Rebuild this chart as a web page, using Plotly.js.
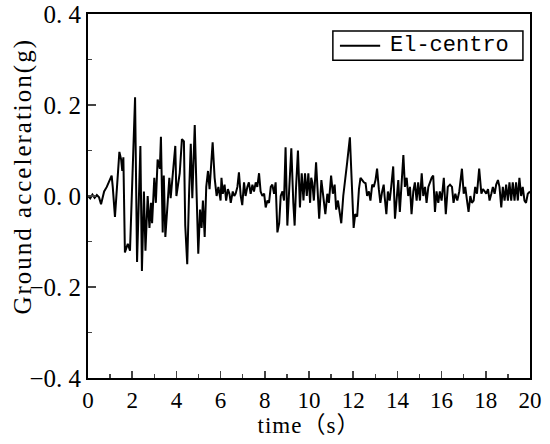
<!DOCTYPE html>
<html>
<head>
<meta charset="utf-8">
<script src="https://cdn.plot.ly/plotly-3.0.1.min.js"></script>
<style>
  html, body { margin: 0; padding: 0; background: #ffffff; }
  #chart { width: 550px; height: 444px; }
  /* the original uses a wide serif face; spread the letters a little */
  #chart .annotation-text.ytitle-note, #chart .ytitle-note text { letter-spacing: 2px; }
  #chart .xtitle { letter-spacing: 1px; }
</style>
</head>
<body>
<div id="chart"></div>
<script>
// El-centro record (time in s, acceleration in g)
const seriesName = "El-centro";
const xTitle = "time（s）";
const yTitle = "Ground acceleration(g)";
const timeSec = [
  0, 0.1, 0.2, 0.3, 0.4, 0.5, 0.59, 0.73, 0.85, 0.98, 1.07, 1.12, 1.22, 1.42, 1.5, 1.55, 1.6,
  1.67, 1.8, 1.9, 2.13, 2.22, 2.37, 2.44, 2.53, 2.6, 2.7, 2.78, 2.85, 2.9, 3.0, 3.07, 3.15,
  3.25, 3.3, 3.38, 3.43, 3.5, 3.59, 3.68, 3.74, 3.83, 3.95, 4.0, 4.1, 4.15, 4.25, 4.34, 4.4,
  4.49, 4.57, 4.65, 4.72, 4.83, 4.92, 4.99, 5.07, 5.14, 5.2, 5.28, 5.35, 5.43, 5.5, 5.64,
  5.73, 5.82, 5.9, 6.0, 6.04, 6.1, 6.18, 6.25, 6.33, 6.4, 6.46, 6.55, 6.62, 6.68, 6.76,
  6.83, 6.91, 6.98, 7.06, 7.13, 7.21, 7.28, 7.36, 7.44, 7.51, 7.59, 7.66, 7.74, 7.81, 7.89,
  7.97, 8.04, 8.12, 8.19, 8.27, 8.34, 8.42, 8.49, 8.57, 8.65, 8.72, 8.8, 8.87, 8.94, 9.02,
  9.1, 9.2, 9.29, 9.35, 9.41, 9.5, 9.59, 9.67, 9.75, 9.82, 9.9, 9.97, 10.05, 10.1, 10.15,
  10.22, 10.32, 10.41, 10.46, 10.56, 10.65, 10.74, 10.83, 10.9, 11.0, 11.08, 11.16, 11.23,
  11.31, 11.38, 11.46, 11.55, 11.64, 11.73, 11.85, 11.94, 12.02, 12.09, 12.18, 12.26, 12.33,
  12.41, 12.48, 12.56, 12.63, 12.71, 12.78, 12.86, 12.93, 13.01, 13.08, 13.16, 13.23, 13.31,
  13.38, 13.42, 13.5, 13.57, 13.65, 13.72, 13.81, 13.89, 13.96, 14.04, 14.11, 14.19, 14.27,
  14.34, 14.42, 14.49, 14.57, 14.64, 14.72, 14.79, 14.87, 14.94, 15.02, 15.1, 15.17, 15.25,
  15.32, 15.4, 15.47, 15.55, 15.62, 15.7, 15.77, 15.85, 15.92, 16.0, 16.1, 16.19, 16.28,
  16.38, 16.47, 16.54, 16.62, 16.71, 16.8, 16.92, 17.0, 17.07, 17.15, 17.22, 17.3, 17.37,
  17.45, 17.52, 17.6, 17.7, 17.8, 17.87, 17.95, 18.02, 18.1, 18.17, 18.25, 18.32, 18.4,
  18.47, 18.55, 18.62, 18.7, 18.77, 18.85, 18.92, 19.0, 19.07, 19.15, 19.22, 19.3, 19.37,
  19.45, 19.52, 19.6, 19.67, 19.75, 19.82, 19.9, 20.0
];
const accelG = [
  0, -0.005, 0.003, -0.004, 0.002, -0.003, -0.018, 0.01, 0.02, 0.034, 0.045, 0.02, -0.046,
  0.097, 0.08, 0.055, 0.085, -0.124, -0.105, -0.12, 0.217, -0.145, 0.11, -0.165, 0.01, -0.12,
  0, -0.07, -0.015, -0.06, 0.04, -0.015, 0.08, 0.06, 0.13, -0.08, 0.045, -0.09, -0.014,
  0.04, -0.005, 0.053, 0.11, 0, 0.035, 0.05, 0.125, 0.12, -0.065, -0.15, 0, 0.115, -0.005,
  0.156, -0.005, -0.127, -0.03, -0.07, -0.01, -0.09, 0.02, 0.055, 0.015, 0.118, 0.04, 0,
  0.02, -0.01, 0.04, 0.005, 0.025, -0.01, 0.015, 0.005, -0.015, 0.01, 0, 0.005, 0.02,
  0.052, 0, -0.02, 0.03, 0, 0.02, 0.03, 0.005, 0.025, 0.01, 0.03, 0.02, 0.05, 0.01, 0,
  0.005, -0.025, -0.01, -0.015, 0.02, 0.025, 0.005, 0.03, -0.08, -0.06, 0, 0.01, -0.01,
  0.107, -0.065, 0.015, 0.105, -0.015, -0.065, 0.015, 0.1, -0.025, 0.05, -0.01, 0.05, 0,
  0.05, -0.015, 0.04, 0.03, -0.01, 0.074, 0, -0.05, 0.035, -0.01, -0.04, 0.005, -0.015,
  0.045, 0.005, 0.025, -0.03, -0.01, -0.035, -0.06, 0, 0.045, 0.075, 0.129, 0.015, -0.07,
  -0.04, -0.045, 0.015, 0.04, 0.035, 0.03, 0.028, 0, 0.01, -0.01, 0.025, 0.02, 0.035, 0.06,
  0.015, -0.015, 0.01, 0.025, 0, -0.04, 0.01, -0.01, 0.02, 0.065, -0.05, 0, 0.035, -0.035,
  0.04, 0.09, 0.02, 0.04, 0, 0.02, -0.04, 0.01, 0.03, -0.01, 0.03, -0.01, 0.05, 0, 0.02,
  -0.015, 0.02, 0.03, 0.04, 0.045, -0.035, 0.01, -0.015, 0.01, -0.01, 0.04, -0.04, 0.02,
  0.025, 0.02, -0.015, 0.005, -0.01, 0.01, 0.06, 0.005, 0.02, -0.01, -0.035, 0, -0.015,
  -0.01, 0.02, 0.005, 0.06, 0.005, 0.015, 0.01, 0.005, 0.015, -0.01, 0.005, 0.02, 0.005,
  0.025, 0.035, 0.02, -0.025, 0.02, -0.01, 0.025, -0.01, 0.03, -0.01, 0.03, -0.01, 0.03,
  -0.01, 0.04, 0, 0.02, -0.01, -0.015, 0.005, 0.01
];

const xTickVals = [0, 2, 4, 6, 8, 10, 12, 14, 16, 18, 20];
const yTickVals = [-0.4, -0.2, 0, 0.2, 0.4];
const yTickText = ["\u22120. 4", "\u22120. 2", "0. 0", "0. 2", "0. 4"];
const yMinorVals = [-0.3, -0.1, 0.1, 0.3];

const serif = "'Liberation Serif', 'Times New Roman', 'Noto Sans CJK SC', serif";
const mono = "'Liberation Mono', 'DejaVu Sans Mono', monospace";

// legend box drawn by hand so its height can follow the original
const legendBox = { x0: 0.554, x1: 0.984, y0: 0.873, y1: 0.953 };
const legendRowY = (legendBox.y0 + legendBox.y1) / 2;

Plotly.newPlot(
  "chart",
  [
    {
      type: "scatter",
      mode: "lines",
      name: seriesName,
      x: timeSec,
      y: accelG,
      line: { color: "#000000", width: 2 },
    },
  ],
  {
    width: 550,
    height: 444,
    margin: { l: 88, r: 20, t: 14, b: 66 },
    paper_bgcolor: "#ffffff",
    plot_bgcolor: "#ffffff",
    font: { family: serif, size: 23, color: "#000000" },
    showlegend: false,
    xaxis: {
      range: [0, 20],
      tickmode: "array",
      tickvals: xTickVals,
      ticks: "inside",
      ticklen: 7,
      tickwidth: 1.5,
      tickfont: { family: serif, size: 23 },
      showline: true,
      linewidth: 2,
      linecolor: "#000000",
      mirror: true,
      showgrid: false,
      zeroline: false,
      minor: { ticks: "inside", dtick: 1, ticklen: 4, tickwidth: 1.5, showgrid: false },
      title: { text: xTitle, standoff: 4, font: { family: serif, size: 23 } },
    },
    yaxis: {
      range: [-0.4, 0.4],
      tickmode: "array",
      tickvals: yTickVals,
      ticktext: yTickText,
      ticks: "inside",
      ticklen: 8,
      tickwidth: 1.5,
      tickfont: { family: serif, size: 25 },
      showline: true,
      linewidth: 2,
      linecolor: "#000000",
      mirror: true,
      showgrid: false,
      zeroline: false,
      minor: { ticks: "inside", tickmode: "array", tickvals: yMinorVals, ticklen: 4, tickwidth: 1.5, showgrid: false },
    },
    shapes: [
      {
        type: "rect",
        xref: "paper", yref: "paper",
        x0: legendBox.x0, x1: legendBox.x1, y0: legendBox.y0, y1: legendBox.y1,
        line: { color: "#000000", width: 1.5 },
        fillcolor: "#ffffff",
      },
      {
        type: "line",
        xref: "paper", yref: "paper",
        x0: legendBox.x0 + 0.016, x1: legendBox.x0 + 0.107,
        y0: legendRowY, y1: legendRowY,
        line: { color: "#000000", width: 2 },
      },
    ],
    annotations: [
      {
        xref: "paper", yref: "paper",
        x: legendBox.x0 + 0.125, y: legendRowY,
        xanchor: "left", yanchor: "middle",
        text: seriesName,
        showarrow: false,
        font: { family: mono, size: 22, color: "#000000" },
      },
      {
        // y title sits a little above the plot centre in the original
        xref: "paper", yref: "paper",
        x: -0.148, y: 0.555,
        xanchor: "center", yanchor: "middle",
        textangle: -90,
        text: yTitle,
        showarrow: false,
        font: { family: serif, size: 25, color: "#000000" },
      },
    ],
  },
  { displayModeBar: false, staticPlot: true }
);
// spread the rotated title a bit, like the wide face of the original
document.querySelectorAll("#chart .annotation-text").forEach((el) => {
  if (el.textContent === yTitle) el.style.letterSpacing = "2px";
});
</script>
</body>
</html>
